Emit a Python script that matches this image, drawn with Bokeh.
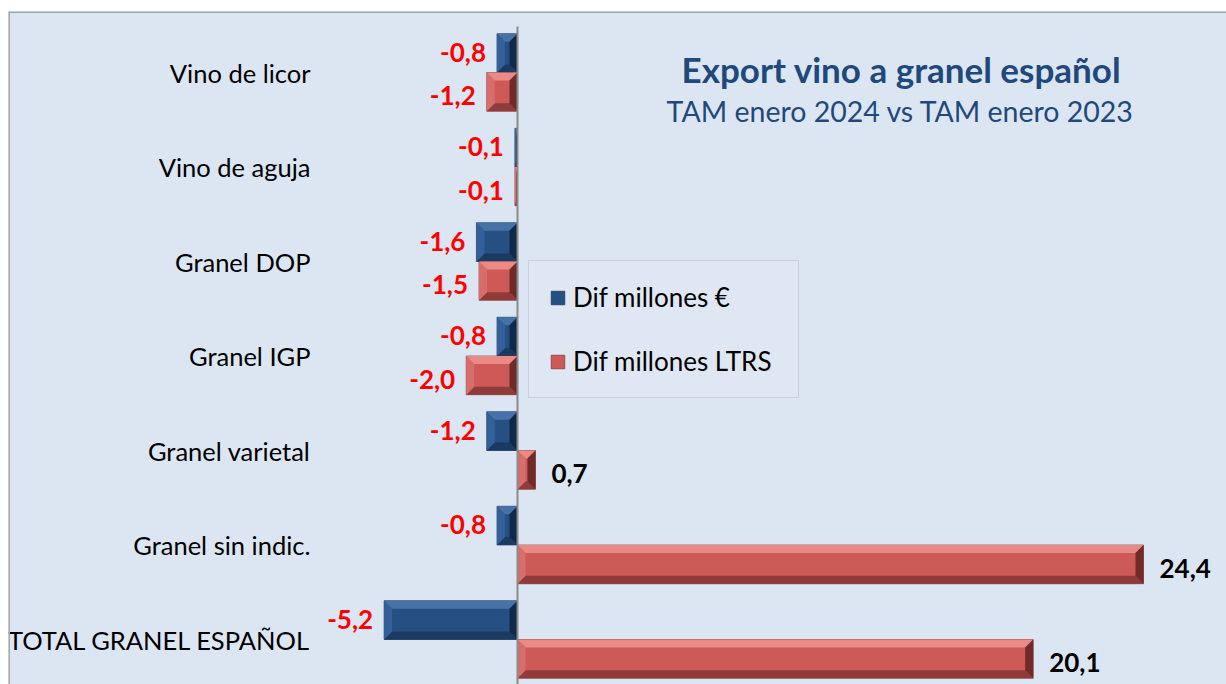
import numpy as np
from bokeh.plotting import figure
from bokeh.models import Range1d, Label, Span, Legend, LegendItem, ColumnDataSource
from bokeh.embed import file_html
from bokeh.resources import INLINE
from bokeh.core.properties import value

categories = ["Vino de licor", "Vino de aguja", "Granel DOP", "Granel IGP",
              "Granel varietal", "Granel sin indic.", "TOTAL GRANEL ESPAÑOL"]
dif_eur = [-0.8, -0.1, -1.6, -0.8, -1.2, -0.8, -5.2]
dif_ltrs = [-1.2, -0.1, -1.5, -2.0, 0.7, 24.4, 20.1]
series_names = ["Dif millones €", "Dif millones LTRS"]
title_text = "Export vino a granel español"
subtitle_text = "TAM enero 2024 vs TAM enero 2023"

FONT = "Lato"
W, H = 1226, 684
FL, FT = 8, 11            # frame left / top in page pixels
SX = 626 / 24.4           # px per unit (x)
SY = 94.5                 # px per category (y)
X0PX, Y0PX = 517, 72      # page px of value 0 / first category
xs = -(X0PX - FL) / SX
xe = xs + (W - FL) / SX
ys_bottom = (H - Y0PX) / SY
ys_top = (FT - Y0PX) / SY

p = figure(width=W, height=H, output_backend="svg", toolbar_location=None,
           x_range=Range1d(xs, xe), y_range=Range1d(ys_bottom, ys_top),
           x_axis_location=None, y_axis_location=None,
           min_border_left=FL, min_border_right=0, min_border_top=FT, min_border_bottom=0)
p.grid.visible = False
p.background_fill_color = "#dce6f2"
p.border_fill_color = "white"
p.outline_line_color = None


def dx(px):  # page pixel -> data x
    return (px - X0PX) / SX


def dy(py):  # page pixel -> data y
    return (py - Y0PX) / SY


# frame lines (left & top only, the rest runs off the picture)
p.add_layout(Span(location=xs, dimension="height", line_color="#a6a6a6", line_width=3))
p.add_layout(Span(location=ys_top, dimension="width", line_color="#a6a6a6", line_width=3))

ypos = np.arange(len(categories), dtype=float)
BH = 0.41


def draw_bars(vals, offset, face, top, bottom, left, right):
    vals = np.asarray(vals, dtype=float)
    yc = ypos + offset
    x0 = np.minimum(0, vals)
    x1 = np.maximum(0, vals)
    yt = yc - BH / 2
    yb = yc + BH / 2
    src = ColumnDataSource(dict(left=x0, right=x1, top=yt, bottom=yb))
    r = p.quad(left="left", right="right", top="top", bottom="bottom", source=src,
               fill_color=face, line_color=right, line_width=1, line_alpha=0.6)
    bx = np.minimum(8 / SX, (x1 - x0) / 2)
    by = 8 / SY
    tx, ty, bxs, bys, lx, ly, rx, ry = [], [], [], [], [], [], [], []
    for a, b, t, u, d in zip(x0, x1, yt, yb, bx):
        tx.append([a, b, b - d, a + d]); ty.append([t, t, t + by, t + by])
        bxs.append([a, b, b - d, a + d]); bys.append([u, u, u - by, u - by])
        lx.append([a, a + d, a + d, a]); ly.append([t, t + by, u - by, u])
        rx.append([b, b - d, b - d, b]); ry.append([t, t + by, u - by, u])
    p.patches(tx, ty, fill_color=top, line_color=None)
    p.patches(bxs, bys, fill_color=bottom, line_color=None)
    p.patches(lx, ly, fill_color=left, line_color=None)
    p.patches(rx, ry, fill_color=right, line_color=None)
    return r


r_eur = draw_bars(dif_eur, -BH / 2, "#264f82", "#4772a8", "#1a3a62", "#33609a", "#10284a")
r_ltr = draw_bars(dif_ltrs, BH / 2, "#cd5a57", "#ea8a87", "#8e3b39", "#d86e6b", "#702a28")

# zero axis line
p.segment(x0=[0], y0=[dy(26)], x1=[0], y1=[dy(700)], line_color="#8a8a8a", line_width=2)

# category labels
p.text(x=[0] * len(categories), y=ypos, text=categories, x_offset=-207,
       text_align="right", text_baseline="middle", text_font=value(FONT),
       text_font_size="25.5px", text_color="black")


def value_labels(vals, offset, yoff):
    vals = np.asarray(vals, dtype=float)
    txt = [f"{v:.1f}".replace(".", ",") for v in vals]
    neg = vals < 0
    src = ColumnDataSource(dict(
        x=vals, y=ypos + offset, t=txt,
        align=["right" if n else "left" for n in neg],
        xo=[-11 if n else 16 for n in neg],
        col=["#ff0000" if n else "black" for n in neg]))
    p.text(x="x", y="y", text="t", source=src, x_offset="xo", y_offset=yoff,
           text_align="align", text_baseline="middle", text_color="col",
           text_font=value(FONT), text_font_style="bold", text_font_size="26px")


value_labels(dif_eur, -BH / 2, -1)
value_labels(dif_ltrs, BH / 2, 4)

# title
p.add_layout(Label(x=dx(901), y=dy(68), text=title_text,
                   text_align="center", text_baseline="middle", text_font=FONT,
                   text_font_style="bold", text_font_size="35px", text_color="#1f497d"))
p.add_layout(Label(x=dx(900), y=dy(110), text=subtitle_text,
                   text_align="center", text_baseline="middle", text_font=FONT,
                   text_font_size="28.5px", text_color="#1f497d"))

legend = Legend(items=[LegendItem(label=series_names[0], renderers=[r_eur]),
                       LegendItem(label=series_names[1], renderers=[r_ltr])],
                location=(528 - FL, H - 398), orientation="vertical",
                padding=20, spacing=32, glyph_width=17, glyph_height=17,
                label_height=20, label_width=205, label_standoff=7,
                label_text_font=FONT, label_text_font_size="26px",
                label_text_color="black",
                background_fill_color="#dfe7f2", background_fill_alpha=1,
                border_line_color="#b4bcc8", border_line_width=1)
p.add_layout(legend)

open("out.html", "w").write(file_html(p, INLINE))
